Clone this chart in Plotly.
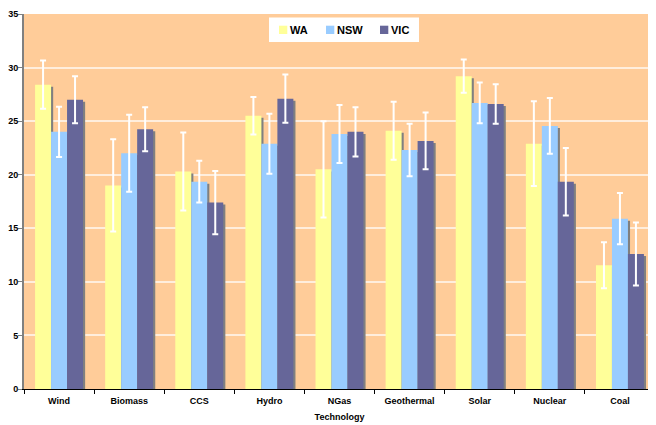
import plotly.graph_objects as go

categories = ["Wind", "Biomass", "CCS", "Hydro", "NGas", "Geothermal", "Solar", "Nuclear", "Coal"]
wa = [28.4, 19.0, 20.3, 25.5, 20.5, 24.1, 29.2, 22.9, 11.55]
nsw = [24.0, 22.0, 19.35, 22.9, 23.8, 22.3, 26.7, 24.55, 15.9]
vic = [27.0, 24.25, 17.4, 27.1, 24.0, 23.15, 26.6, 19.35, 12.6]
wa_err = [2.25, 4.3, 3.65, 1.75, 4.5, 2.7, 1.55, 3.95, 2.15]
nsw_err = [2.35, 3.6, 1.95, 2.8, 2.7, 2.45, 1.9, 2.6, 2.4]
vic_err = [2.2, 2.05, 2.95, 2.25, 2.3, 2.65, 1.85, 3.15, 2.95]
y_ticks = [0, 5, 10, 15, 20, 25, 30, 35]
series_names = ["WA", "NSW", "VIC"]
series_colors = ["#FFFF99", "#99CCFF", "#666699"]

series = [
    (series_names[0], wa, wa_err, series_colors[0], -0.342),
    (series_names[1], nsw, nsw_err, series_colors[1], -0.114),
    (series_names[2], vic, vic_err, series_colors[2], 0.114),
]
bw = 0.228

fig = go.Figure()
for name, vals, errs, color, off in series:
    # drop shadow
    fig.add_trace(go.Bar(
        x=categories, y=vals, base=-0.19, offset=off + 0.03, width=bw,
        marker=dict(color="#808080", line=dict(width=0)),
        showlegend=False, hoverinfo="skip",
    ))
    fig.add_trace(go.Bar(
        name=name, x=categories, y=vals, offset=off, width=bw,
        marker=dict(color=color, line=dict(width=0)),
        error_y=dict(type="data", array=errs, visible=True,
                     color="white", thickness=2, width=3),
        showlegend=False,
    ))

# plot-area geometry on screen (for legend placement in paper coords)
PX0, PW, PY0, PH = 24, 631, 389, 375
def px(x):
    return (x - PX0) / PW
def py(y):
    return (PY0 - y) / PH

shapes = [dict(type="rect", xref="paper", yref="paper",
               x0=px(269), x1=px(419), y0=py(42), y1=py(17.5),
               fillcolor="white", line=dict(width=0), layer="above")]
annotations = []
sq_x = [279, 326, 380]
for sx, name, color in zip(sq_x, series_names, series_colors):
    shapes.append(dict(type="rect", xref="paper", yref="paper",
                       x0=px(sx), x1=px(sx + 8.3), y0=py(34), y1=py(25.7),
                       fillcolor=color, line=dict(width=0), layer="above"))
    annotations.append(dict(xref="paper", yref="paper", x=px(sx + 9.5), y=py(30),
                            xanchor="left", yanchor="middle", showarrow=False,
                            text=name, borderpad=0,
                            font=dict(size=11, weight="bold", color="#000")))

fig.update_layout(
    barmode="overlay",
    width=648, height=417,
    margin=dict(l=16, r=1, t=6, b=36, autoexpand=False),
    paper_bgcolor="white",
    plot_bgcolor="#FFCC99",
    font=dict(family="Liberation Sans, Arial, sans-serif", color="#000000"),
    showlegend=False,
    shapes=shapes,
    annotations=annotations,
    xaxis=dict(
        type="category", automargin=False,
        tickfont=dict(size=9, weight="bold"),
        ticks="outside", tickson="boundaries", ticklen=4, tickcolor="#000",
        ticklabelstandoff=3,
        showline=True, linecolor="#000", linewidth=1,
        title=dict(text="Technology", font=dict(size=9, weight="bold"), standoff=8),
        showgrid=False,
    ),
    yaxis=dict(
        range=[0, 35], tickvals=y_ticks, automargin=False,
        ticklabeloverflow="allow", ticklabelstandoff=-2,
        tickfont=dict(size=9, weight="bold"),
        ticks="outside", ticklen=4, tickcolor="#808080",
        showline=True, linecolor="#808080", linewidth=2,
        showgrid=True, gridcolor="#FFEEDD", gridwidth=1.5,
        zeroline=False,
    ),
)

fig.write_html("out.html")
